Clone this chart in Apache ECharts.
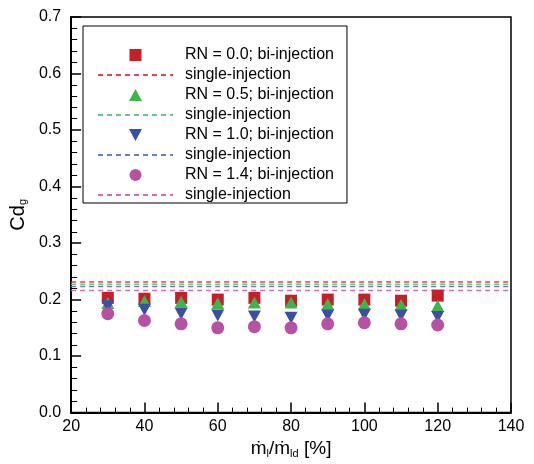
<!DOCTYPE html>
<html><head><meta charset="utf-8">
<script src="https://cdn.jsdelivr.net/npm/echarts@6/dist/echarts.min.js"></script>
<style>html,body{margin:0;padding:0;background:#fff}#c{width:534px;height:464px}</style>
</head><body><div id="c"></div>
<script>
const xValues = [30, 40, 50, 60, 70, 80, 90, 100, 110, 120];
const rn00 = [0.203, 0.2015, 0.203, 0.200, 0.203, 0.198, 0.200, 0.200, 0.198, 0.207];
const rn05 = [0.194, 0.1975, 0.196, 0.1935, 0.195, 0.195, 0.192, 0.192, 0.191, 0.189];
const rn10 = [0.188, 0.182, 0.175, 0.172, 0.170, 0.168, 0.172, 0.173, 0.172, 0.169];
const rn14 = [0.175, 0.163, 0.157, 0.150, 0.152, 0.150, 0.157, 0.159, 0.157, 0.155];
const singleValues = [0.231, 0.227, 0.223, 0.216];
const singleXRange = [20, 140];
const biNames = ['RN = 0.0; bi-injection', 'RN = 0.5; bi-injection', 'RN = 1.0; bi-injection', 'RN = 1.4; bi-injection'];
const singleNames = ['single-injection#0', 'single-injection#1', 'single-injection#2', 'single-injection#3'];

const markerColors = ['#c41f2a', '#3db54a', '#3b50a3', '#b552a3'];
const lineColors = ['#d84a56', '#6cc97a', '#6a7ec4', '#d46ac2'];
const symbols = ['rect', 'triangle', 'triangle', 'circle'];
const rotations = [0, 0, 180, 0];
const sizes = [12, [13, 12], [13, 12], 13];
const corners = 'M0,0h0.01v0.01h-0.01z M75,12h-0.01v-0.01h0.01z ';
const legendIcons = [
  'path://' + corners + 'M31.5,0h12v12h-12z',
  'path://' + corners + 'M37.5,0L44,12L31,12z',
  'path://' + corners + 'M31,0L44,0L37.5,12z',
  'path://' + corners + 'M43.8,6A6.3,6.3 0 1 1 31.2,6A6.3,6.3 0 1 1 43.8,6z'
];
const allY = [rn00, rn05, rn10, rn14];

const series = [];
const legendData = [];
for (let i = 0; i < 4; i++) {
  series.push({
    type: 'scatter', name: biNames[i], z: 3 + i,
    symbol: symbols[i], symbolRotate: rotations[i], symbolSize: sizes[i],
    itemStyle: { color: markerColors[i], opacity: 1 },
    data: xValues.map((x, k) => [x, allY[i][k]])
  });
  series.push({
    type: 'line', name: singleNames[i], z: 2, symbol: 'none', silent: true,
    lineStyle: { color: lineColors[i], width: 1.5, type: [5, 4] },
    itemStyle: { color: lineColors[i] },
    data: singleXRange.map(x => [x, singleValues[i]])
  });
  legendData.push({ name: biNames[i], icon: legendIcons[i] });
  legendData.push({ name: singleNames[i], itemStyle: { opacity: 0 } });
}

const chart = echarts.init(document.getElementById('c'), null, { renderer: 'canvas' });
const font = 'Liberation Sans, Arial, sans-serif';
chart.setOption({
  animation: false,
  textStyle: { fontFamily: font },
  grid: { left: 70, right: 23, top: 17, bottom: 51, show: true, borderColor: '#000', borderWidth: 1.5, backgroundColor: 'transparent' },
  legend: {
    orient: 'vertical', left: 83, top: 26,
    padding: [21, 13, 0, 14],
    itemWidth: 75, itemHeight: 12, itemGap: 4,
    borderColor: '#000', borderWidth: 1, backgroundColor: '#fff',
    data: legendData,
    formatter: n => n.split('#')[0],
    textStyle: { fontFamily: font, fontSize: 16, color: '#000', padding: [0, 0, 0, 7] },
    selectedMode: false
  },
  xAxis: {
    type: 'value', min: 20, max: 140, interval: 20,
    name: '{a|ṁ}{s|l}{a|/ṁ}{s|ld}{a| [%]}', nameLocation: 'middle', nameGap: 22,
    nameTextStyle: { rich: { a: { fontSize: 19, fontFamily: font, color: '#000' }, s: { fontSize: 11, fontFamily: font, color: '#000', verticalAlign: 'bottom', padding: [9, 0, 0, 0] } } },
    axisLine: { lineStyle: { color: '#000', width: 2 } },
    axisTick: { inside: true, length: 10, lineStyle: { color: '#000', width: 1.5 } },
    minorTick: { show: true, splitNumber: 5, length: 5, lineStyle: { color: '#000', width: 1 } },
    splitLine: { show: false },
    axisLabel: { fontSize: 16, color: '#000', margin: 6, fontFamily: font }
  },
  yAxis: {
    type: 'value', min: 0, max: 0.7, interval: 0.1,
    name: '{a|Cd}{s|g}', nameLocation: 'middle', nameGap: 27, nameRotate: 90,
    nameTextStyle: { rich: { a: { fontSize: 20, fontFamily: font, color: '#000' }, s: { fontSize: 11, fontFamily: font, color: '#000', verticalAlign: 'bottom', padding: [9, 0, 0, 0] } } },
    axisLine: { lineStyle: { color: '#000', width: 2 } },
    axisTick: { inside: true, length: 10, lineStyle: { color: '#000', width: 1.5 } },
    minorTick: { show: true, splitNumber: 5, length: 6, lineStyle: { color: '#000', width: 1 } },
    splitLine: { show: false },
    axisLabel: { fontSize: 16, color: '#000', margin: 10, fontFamily: font, formatter: v => v.toFixed(1) }
  },
  series: series
});
</script></body></html>
